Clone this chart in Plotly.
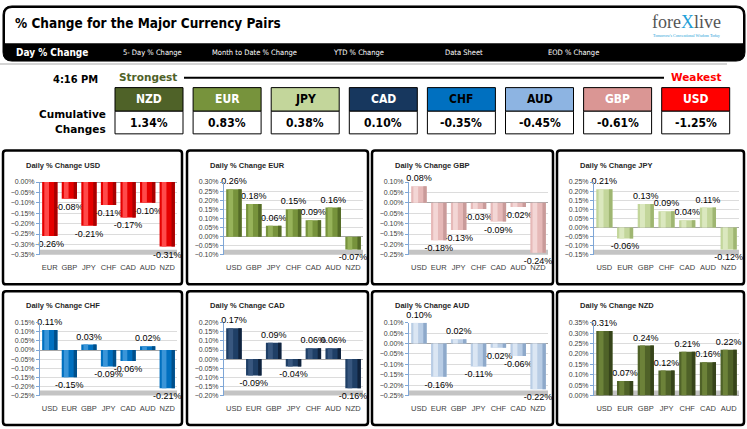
import plotly.graph_objects as go

W, H = 747, 429

# cumulative strength table (strongest -> weakest)
CUM_CCY = ["NZD", "EUR", "JPY", "CAD", "CHF", "AUD", "GBP", "USD"]
CUM_VALS = [1.34, 0.83, 0.38, 0.10, -0.35, -0.45, -0.61, -1.25]
CUM_FILL = ["#4f6228", "#77933c", "#c3d69b", "#17375e", "#0070c0", "#8db4e2", "#da9694", "#ff0000"]
CUM_TEXT = ["white", "white", "black", "white", "black", "black", "white", "white"]

TABS = ["Day % Change", "5- Day % Change", "Month to Date % Change",
        "YTD % Change", "Data Sheet", "EOD % Change"]

# daily % change panels
USD_CATS = ["EUR", "GBP", "JPY", "CHF", "CAD", "AUD", "NZD"]
USD_VALS = [-0.26, -0.08, -0.21, -0.11, -0.17, -0.10, -0.31]
EUR_CATS = ["USD", "GBP", "JPY", "CHF", "CAD", "AUD", "NZD"]
EUR_VALS = [0.26, 0.18, 0.06, 0.15, 0.09, 0.16, -0.07]
GBP_CATS = ["USD", "EUR", "JPY", "CHF", "CAD", "AUD", "NZD"]
GBP_VALS = [0.08, -0.18, -0.13, -0.03, -0.09, -0.02, -0.24]
JPY_CATS = ["USD", "EUR", "GBP", "CHF", "CAD", "AUD", "NZD"]
JPY_VALS = [0.21, -0.06, 0.13, 0.09, 0.04, 0.11, -0.12]
CHF_CATS = ["USD", "EUR", "GBP", "JPY", "CAD", "AUD", "NZD"]
CHF_VALS = [0.11, -0.15, 0.03, -0.09, -0.06, 0.02, -0.21]
CAD_CATS = ["USD", "EUR", "GBP", "JPY", "CHF", "AUD", "NZD"]
CAD_VALS = [0.17, -0.09, 0.09, -0.04, 0.06, 0.06, -0.16]
AUD_CATS = ["USD", "EUR", "GBP", "JPY", "CHF", "CAD", "NZD"]
AUD_VALS = [0.10, -0.16, 0.02, -0.11, -0.02, -0.06, -0.22]
NZD_CATS = ["USD", "EUR", "GBP", "JPY", "CHF", "CAD", "AUD"]
NZD_VALS = [0.31, 0.07, 0.24, 0.12, 0.21, 0.16, 0.22]

# y-axis ranges as printed on each panel
USD_RANGE = [-0.35, 0.00]
EUR_RANGE = [-0.10, 0.30]
GBP_RANGE = [-0.25, 0.10]
JPY_RANGE = [-0.15, 0.25]
CHF_RANGE = [-0.25, 0.15]
CAD_RANGE = [-0.20, 0.20]
AUD_RANGE = [-0.25, 0.10]
NZD_RANGE = [0.00, 0.35]

# (body, highlight, shadow) per panel - gives the cylinder look
PANELS = [
    ("USD", USD_CATS, USD_VALS, USD_RANGE, ("#e60000", "#ff4a4a", "#a80000")),
    ("EUR", EUR_CATS, EUR_VALS, EUR_RANGE, ("#77933c", "#97b35a", "#546b27")),
    ("GBP", GBP_CATS, GBP_VALS, GBP_RANGE, ("#e6b9b8", "#f3d6d5", "#c99b9a")),
    ("JPY", JPY_CATS, JPY_VALS, JPY_RANGE, ("#c3d69b", "#dbe8bf", "#9fb672")),
    ("CHF", CHF_CATS, CHF_VALS, CHF_RANGE, ("#0070c0", "#3a95d8", "#004f8a")),
    ("CAD", CAD_CATS, CAD_VALS, CAD_RANGE, ("#1f3f66", "#38577f", "#10233d")),
    ("AUD", AUD_CATS, AUD_VALS, AUD_RANGE, ("#b9cde5", "#dbe6f3", "#8ea9ca")),
    ("NZD", NZD_CATS, NZD_VALS, NZD_RANGE, ("#4f6228", "#6c8239", "#36441a")),
]

NARROW = "Liberation Sans Narrow, DejaVu Sans Condensed, Arial Narrow, sans-serif"
SANS = "Liberation Sans, Arial, sans-serif"


def X(x):
    return x / W


def Y(y):
    return 1 - y / H


def rrect(x0, y0, x1, y1, r):
    """Rounded rectangle path in paper coords from pixel box."""
    return (f"M {X(x0 + r)},{Y(y0)} L {X(x1 - r)},{Y(y0)} Q {X(x1)},{Y(y0)} {X(x1)},{Y(y0 + r)} "
            f"L {X(x1)},{Y(y1 - r)} Q {X(x1)},{Y(y1)} {X(x1 - r)},{Y(y1)} "
            f"L {X(x0 + r)},{Y(y1)} Q {X(x0)},{Y(y1)} {X(x0)},{Y(y1 - r)} "
            f"L {X(x0)},{Y(y0 + r)} Q {X(x0)},{Y(y0)} {X(x0 + r)},{Y(y0)} Z")


def box(x0, y0, x1, y1, fill, line="black", lw=1):
    return dict(type="rect", xref="paper", yref="paper", x0=X(x0), x1=X(x1),
                y0=Y(y1), y1=Y(y0), fillcolor=fill, line=dict(color=line, width=lw))


def text(x, y, s, size, color="black", family=SANS, xanchor="center", bold=False):
    if bold:
        s = f"<b>{s}</b>"
    return dict(x=X(x), y=Y(y), xref="paper", yref="paper", text=s, showarrow=False,
                xanchor=xanchor, yanchor="middle", font=dict(size=size, color=color, family=family))


fig = go.Figure()
shapes, annos = [], []

# ---- header banner
shapes.append(dict(type="path", xref="paper", yref="paper", path=rrect(3, 2, 745, 58, 9),
                   fillcolor="black", line=dict(color="black", width=1)))
shapes.append(dict(type="path", xref="paper", yref="paper", path=rrect(5, 4, 743, 46, 7),
                   fillcolor="white", line=dict(width=0)))
shapes.append(box(5, 40, 743, 50, "black", line="black", lw=0))
annos.append(text(13, 19, "% Change for the Major Currency Pairs", 13.5, family=NARROW,
                  xanchor="left", bold=True))
annos.append(text(686, 18, "fore<span style='color:#1f9fd8'>X</span>live", 18, color="#555555",
                  family="Liberation Serif, serif"))
annos.append(text(686, 32, "Tomorrow's Conventional Wisdom Today", 4, color="#1f9fd8",
                  family="Liberation Serif, serif"))
tab_x = [14, 121, 210, 331, 443, 546]
for i, (t, tx) in enumerate(zip(TABS, tab_x)):
    annos.append(text(tx, 49, t, 10 if i == 0 else 7.5, color="white", family=NARROW,
                      xanchor="left", bold=(i == 0)))

shapes.append(dict(type="line", xref="paper", yref="paper", x0=0, x1=X(727), y0=Y(61), y1=Y(61),
                   line=dict(color="#d4d4d4", width=2)))

# ---- strongest / weakest row
annos.append(text(75, 77, "4:16 PM", 11, family=NARROW, bold=True))
annos.append(text(148, 74, "Strongest", 10.5, color="#4f6228", family="DejaVu Sans", bold=True))
annos.append(text(696, 74, "Weakest", 10.5, color="#ff0000", family="DejaVu Sans", bold=True))
shapes.append(dict(type="line", xref="paper", yref="paper", x0=X(184), x1=X(664), y0=Y(75), y1=Y(75),
                   line=dict(color="black", width=2)))
annos.append(text(108, 112, "Cumulative", 10.5, family="DejaVu Sans", xanchor="right", bold=True))
annos.append(text(108, 127, "Changes", 10.5, family="DejaVu Sans", xanchor="right", bold=True))

for i, (ccy, val, fill, tc) in enumerate(zip(CUM_CCY, CUM_VALS, CUM_FILL, CUM_TEXT)):
    x0 = 115 + 78.1 * i
    x1 = x0 + 68
    shapes.append(box(x0, 85, x1, 109, fill))
    shapes.append(box(x0, 109, x1, 132, "white"))
    annos.append(text((x0 + x1) / 2, 97, ccy, 12, color=tc, family=NARROW, bold=True))
    annos.append(text((x0 + x1) / 2, 121, f"{val:.2f}%", 12, family=NARROW, bold=True))

# ---- daily panels
cols = [(3, 182), (187, 368), (372, 553), (557, 744)]
rows = [(149, 285), (292, 428)]

layout_axes = {}
for k, (ccy, cats, vals, yr, (c_mid, c_hi, c_lo)) in enumerate(PANELS):
    n = k + 1
    px0, px1 = cols[k % 4]
    py0, py1 = rows[k // 4]
    shapes.append(dict(type="path", xref="paper", yref="paper", path=rrect(px0, py0, px1, py1, 3),
                       fillcolor="white", line=dict(color="black", width=2.5), layer="below"))
    key = "" if n == 1 else str(n)
    xa, ya = f"x{key}", f"y{key}"
    dom_x = [X(px0 + 37), X(px1 - 5)]
    dom_y = [Y(py0 + 106), Y(py0 + 32)]

    fig.add_trace(go.Bar(x=cats, y=vals, xaxis=xa, yaxis=ya, marker_color=c_mid,
                         width=0.78, offset=-0.39, marker_line_width=0,
                         text=[f"{v:.2f}%" for v in vals], textposition="outside",
                         constraintext="none",
                         textfont=dict(size=9, color="black", family=SANS),
                         cliponaxis=False, hoverinfo="skip"))
    fig.add_trace(go.Bar(x=cats, y=vals, xaxis=xa, yaxis=ya, marker_color=c_lo,
                         width=0.17, offset=0.22, marker_line_width=0, hoverinfo="skip"))
    fig.add_trace(go.Bar(x=cats, y=vals, xaxis=xa, yaxis=ya, marker_color=c_hi,
                         width=0.24, offset=-0.28, marker_line_width=0, hoverinfo="skip"))

    layout_axes[f"xaxis{key}"] = dict(domain=dom_x, anchor=ya, showgrid=False, zeroline=False,
                                      tickfont=dict(size=7.5, color="#404040", family=SANS),
                                      ticks="outside", ticklen=5, tickcolor="rgba(0,0,0,0)",
                                      showline=False, fixedrange=True)
    layout_axes[f"yaxis{key}"] = dict(domain=dom_y, anchor=xa, range=yr, dtick=0.05,
                                      tickformat=".2f", ticksuffix="%",
                                      tickfont=dict(size=7, color="#404040", family=SANS),
                                      showgrid=True, gridcolor="#dcdcdc", gridwidth=1,
                                      zeroline=True, zerolinecolor="#a6a6a6", zerolinewidth=1,
                                      showline=True, linecolor="#7ea6d6", linewidth=1,
                                      ticks="outside", ticklen=3, tickcolor="#7ea6d6",
                                      fixedrange=True)
    # grey 3-D floor strip
    shapes.append(dict(type="rect", xref=f"{xa} domain", yref=f"{ya} domain", x0=0, x1=1,
                       y0=0, y1=0.07, fillcolor="#c4c4c4", line=dict(width=0), layer="below"))
    annos.append(text(px0 + 21, py0 + 15, f"Daily % Change {ccy}", 7.5, color="#262626",
                      family=SANS, xanchor="left", bold=True))

fig.update_layout(
    width=W, height=H, margin=dict(l=0, r=0, t=0, b=0),
    paper_bgcolor="white", plot_bgcolor="rgba(0,0,0,0)",
    showlegend=False, barmode="overlay",
    shapes=shapes, annotations=annos, **layout_axes,
)

fig.write_html("out.html", config={"displayModeBar": False},
               post_script="document.body.style.margin='0';")
